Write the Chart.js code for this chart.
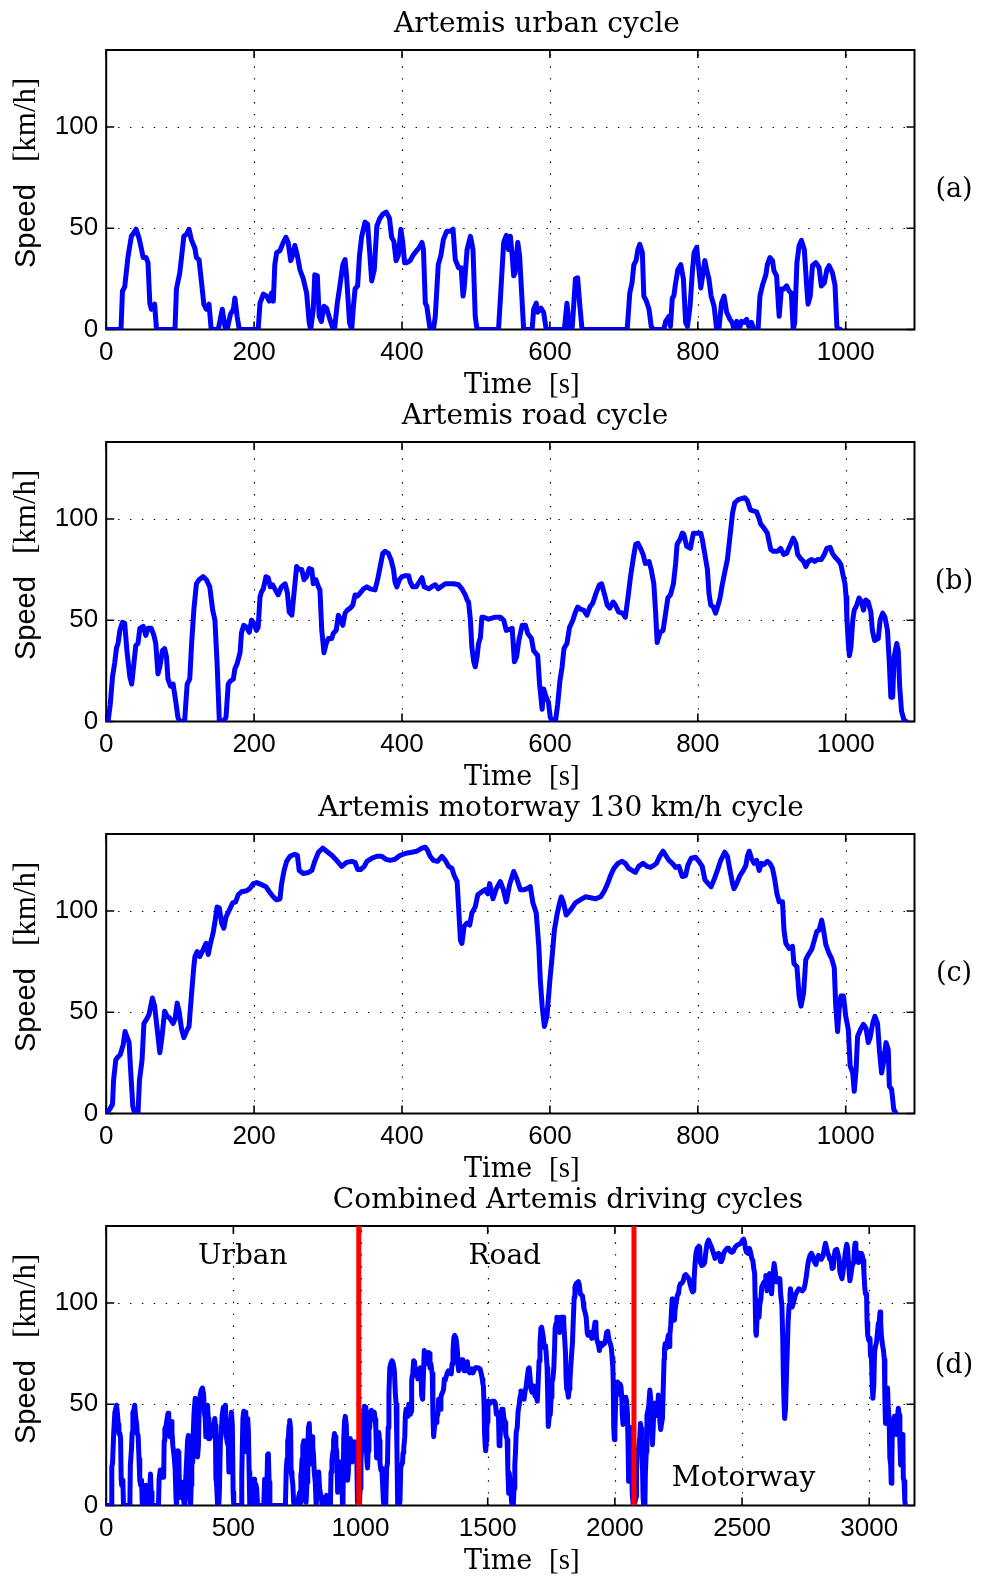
<!DOCTYPE html>
<html>
<head>
<meta charset="utf-8">
<title>Artemis driving cycles</title>
<script src="https://cdn.jsdelivr.net/npm/chart.js@4.4.1/dist/chart.umd.min.js"></script>
<style>
  html, body { margin: 0; padding: 0; background: #fff; }
  #figure { position: relative; width: 981px; height: 1579px; }
  #figure canvas { position: absolute; left: 0; }
</style>
</head>
<body>
<div id="figure"></div>
<script>
// Speed traces: time in s, speed in km/h
const urbanTime = [0, 20, 22, 25, 29.5, 34, 36, 40.5, 44.5, 47.5, 50, 54, 56.5, 59, 61, 65.5, 68, 93, 95, 99.5,
  102, 105, 108.5, 112, 115, 120, 122, 125.5, 129, 132, 135.5, 139, 142, 151.5, 157, 160.5, 163.5, 168, 172, 174,
  177, 180, 205.5, 208, 212.5, 217, 220.5, 223.5, 226, 228, 230.5, 235, 239.5, 243, 246, 249.5, 252, 255, 258.5, 262,
  266.5, 271, 274.5, 276.5, 280, 282, 285.5, 288, 291, 294.5, 298, 302.5, 307, 309, 312.5, 316, 320, 323, 325, 329,
  332, 334, 336.5, 340, 342.5, 345.5, 350, 353.5, 356, 359, 362.5, 366, 369.5, 374, 378.5, 383, 386, 389, 392, 395,
  398.5, 401, 403.5, 406.5, 411, 415.5, 420, 423.5, 427, 429, 431.5, 433.5, 438, 442.5, 445, 449, 452.5, 456, 460.5, 465,
  469, 472, 476.5, 480, 482.5, 484, 488, 492.5, 496, 499, 501.5, 530.5, 533, 537.5, 541, 544, 546.5, 549, 551, 553,
  556.5, 559, 562, 564.5, 576, 578, 581.5, 583.5, 588, 591.5, 595, 619.5, 623, 626.5, 630, 634.5, 637.5, 640.5, 643.5, 704.5,
  708, 711, 713.5, 716.5, 719, 721.5, 725, 727, 730.5, 734, 737, 740, 754, 756.5, 761, 763, 765.5, 767.5, 770, 773,
  777, 780.5, 783.5, 786, 789.5, 792.5, 795, 798.5, 801.5, 804, 806.5, 809.5, 812, 815, 818, 822, 825.5, 828.5, 832, 835.5,
  839, 843.5, 846.5, 849, 852.5, 856, 859, 862.5, 866, 869, 872.5, 876, 881.5, 884, 887.5, 892, 894, 897.5, 901, 903,
  906.5, 910, 913, 916.5, 920, 923.5, 926.5, 929, 931, 934, 937, 940, 944, 947.5, 949, 952, 955, 959.5, 964, 967,
  971, 974.5, 977.5, 982, 985.5, 988, 990, 993];
const urbanSpeed = [0, 0, 19, 21, 36, 46, 47, 49.5, 45, 40, 35.5, 35.5, 33, 13, 10, 12.5, 0, 0, 20, 28,
  36, 46, 47, 49.5, 44.5, 40, 35.5, 34.5, 23, 12.5, 10, 12.5, 0, 0, 10, 1.5, 0, 7.5, 10, 15.5,
  6.5, 0, 0, 13, 17.5, 16.5, 14, 18, 14, 32, 38, 39, 43, 45.5, 43, 34, 36.5, 41.5, 36.5, 29.5,
  25, 18, 3.5, 0, 10, 27, 26.5, 6.5, 4, 11.5, 10.5, 5, 0, 1, 13, 21.5, 32, 34.5, 26.5, 3.5,
  0, 10, 20, 21.5, 36.5, 46, 53, 52, 39.5, 24, 29.5, 51, 54.5, 57, 58, 55, 45.5, 43.5, 34, 36.5,
  49.5, 43, 33, 33, 34, 37, 39, 40.5, 43, 39.5, 13, 11.5, 0, 0, 6.5, 32, 36.5, 44.5, 48.5, 48.5,
  49.5, 34.5, 30.5, 30.5, 16.5, 20, 39.5, 46, 39.5, 6.5, 0, 0, 15, 43, 46.5, 39.5, 46, 36.5, 26.5, 28,
  43, 36.5, 16.5, 0, 0, 10, 13, 8.5, 10.5, 8.5, 0, 0, 13, 0, 0, 25, 25.5, 11.5, 0, 0,
  18, 23, 32, 34, 39.5, 42, 38, 16.5, 14, 10, 1.5, 0, 0, 4, 6.5, 1.5, 15.5, 16.5, 23, 29.5,
  32, 25, 3.5, 1.5, 11.5, 28, 38, 40.5, 29.5, 20.5, 26.5, 34, 29.5, 25, 16.5, 11.5, 0, 0, 13, 16.5,
  8.5, 5, 3.5, 0, 4, 0, 4, 3.5, 5, 1.5, 3.5, 0, 0, 16.5, 22, 27, 32, 35.5, 34, 29,
  26.5, 6.5, 20, 20, 21.5, 19, 18, 0, 3.5, 33, 41.5, 44, 39.5, 20, 12.5, 16.5, 31.5, 33, 30.5, 21.5,
  23, 29.5, 31.5, 28, 22, 1.5, 0, 0];

const roadTime = [0, 2.5, 5.5, 8.5, 11.5, 14, 16, 18.5, 22, 25, 28, 32, 34.5, 37, 40, 43, 45.5, 50, 53.5, 56.5,
  61, 64.5, 67, 70, 72.5, 76, 79, 81.5, 83.5, 87, 90.5, 94, 97, 99.5, 106, 109.5, 113, 115.5, 118.5, 122,
  125.5, 131, 135.5, 140, 144, 147, 150, 153, 158, 162, 165, 168, 172, 174, 177, 181, 183, 186, 190, 193.5,
  196.5, 200, 203, 205.5, 208, 210, 212.5, 216, 219, 222, 225, 228, 232.5, 237, 242, 245, 247.5, 251, 254, 257.5,
  261, 264.5, 267.5, 271, 274.5, 278, 280, 283.5, 287, 289, 291.5, 294.5, 297.5, 300.5, 305, 307, 311, 314, 317, 320,
  323, 326, 330, 333.5, 336.5, 340, 343.5, 348, 352.5, 357, 363.5, 367, 370.5, 374, 377, 381.5, 385, 388.5, 390.5, 393,
  396.5, 400, 404.5, 409, 411, 414.5, 419, 423.5, 427, 430, 436, 440, 445, 449, 452.5, 458.5, 463, 470, 476.5, 481,
  485.5, 488, 490, 492.5, 494.5, 497, 499, 501.5, 503.5, 506, 508, 510.5, 517, 526, 533, 537.5, 541, 549, 552, 555,
  558, 562.5, 567, 570, 575, 578, 583.5, 586, 589.5, 591.5, 595, 598, 600.5, 604, 607.5, 610.5, 613.5, 616.5, 619, 623,
  626.5, 631, 634.5, 637.5, 641, 645.5, 650, 654, 658, 662.5, 667, 670, 674, 677.5, 681, 685.5, 688.5, 693, 698, 702,
  705.5, 709, 712.5, 716, 719, 722.5, 726, 729, 734, 737, 740.5, 743, 745, 749, 753, 756.5, 759.5, 763, 767, 770,
  772, 776, 779, 781, 785, 790, 794, 798.5, 804, 806, 809.5, 813, 815, 817.5, 821, 824, 827.5, 830, 833, 836,
  840, 843.5, 847, 850, 854.5, 859, 863.5, 867, 871, 875, 879.5, 883, 885, 889.5, 894, 898.5, 902, 907.5, 912, 916,
  920, 926, 929, 932.5, 935, 939, 943, 946, 949.5, 954, 958, 962, 967, 971, 974.5, 979, 982, 986, 990, 993.5,
  996, 999, 1000.5, 1001.5, 1003.5, 1005, 1007, 1009.5, 1011.5, 1015, 1018, 1021.5, 1024, 1027, 1030.5, 1034, 1036, 1039, 1044, 1046.5,
  1050, 1053, 1056.5, 1059, 1061, 1063.5, 1065.5, 1069, 1071, 1073, 1075.5, 1079, 1082];
const roadSpeed = [0, 0, 8.5, 22, 29, 36.5, 38.5, 45, 49, 48.5, 35, 22, 18.5, 27, 37.5, 38.5, 46, 47, 42.5, 46,
  46, 42.5, 38.5, 23.5, 27, 35, 36, 32, 21, 17.5, 18.5, 10, 2, 0, 0, 18.5, 21, 38.5, 55, 68,
  70, 71.5, 70, 66.5, 55, 50, 28.5, 0, 0, 2, 18.5, 20, 21, 26, 28.5, 34, 44, 47.5, 46.5, 44,
  50, 48.5, 45, 46.5, 61.5, 64, 65.5, 71.5, 71, 66.5, 67.5, 65.5, 62.5, 66.5, 68, 63.5, 54, 52.5, 63.5, 76.5,
  75, 75, 70, 71.5, 75.5, 75, 68, 70, 66.5, 65, 45, 34, 38.5, 41, 41, 43.5, 45, 52.5, 50, 47.5,
  53.5, 55, 56, 57.5, 62.5, 62, 63.5, 65.5, 66.5, 65.5, 65, 70, 76.5, 83, 84, 83, 80, 75, 69, 66.5,
  70, 71.5, 72, 72, 69, 66.5, 66.5, 69, 71, 66.5, 65.5, 66.5, 67.5, 65.5, 66.5, 68, 68, 68, 67.5, 65.5,
  62.5, 60, 59, 50, 36.5, 29.5, 27, 32, 38.5, 41.5, 51.5, 51.5, 50.5, 51.5, 51.5, 50, 45, 46, 29.5, 32,
  40, 47.5, 47.5, 43.5, 41, 35, 32.5, 18.5, 6, 16, 12, 9.5, 2, 0, 0, 8.5, 20, 27, 36, 38.5,
  46.5, 50, 54, 56.5, 55.5, 55, 52.5, 56.5, 58.5, 63.5, 67.5, 68, 62.5, 57.5, 56, 59, 57.5, 54, 53.5, 51.5,
  61, 71.5, 80, 87.5, 88, 85.5, 82.5, 78, 79, 75, 68, 53.5, 39, 44, 45, 53.5, 61, 62.5, 68, 78,
  87.5, 90, 93, 92.5, 86.5, 85.5, 93, 93, 93, 90, 82.5, 75, 63.5, 57.5, 56.5, 53.5, 57.5, 61, 67.5, 73,
  80, 91.5, 103, 108, 109.5, 110, 110.5, 109, 104.5, 104, 103.5, 100, 97.5, 95.5, 93, 85, 84, 84, 85.5, 82.5,
  83, 88, 90.5, 88, 82.5, 80.5, 79, 76.5, 79, 80, 79, 80, 80, 82.5, 85.5, 86, 83, 81, 79.5, 77.5,
  73, 68, 61.5, 51.5, 38.5, 32.5, 36.5, 50, 55, 57.5, 61, 59, 55, 60, 59, 54, 45, 40, 41, 50,
  53.5, 51.5, 45, 28.5, 12, 12, 32, 38.5, 35, 17, 5, 0.5, 0];

const motorwayTime = [0, 4.5, 8.5, 10, 13, 16, 19, 23, 25.5, 28, 31, 33, 36, 38.5, 43, 45, 48.5, 51, 54.5, 58,
  62.5, 65.5, 69, 72.5, 75.5, 79, 82.5, 86, 90.5, 93, 96, 98.5, 102, 105, 108.5, 112, 115.5, 118.5, 120, 123,
  126.5, 130, 135, 138, 141, 144.5, 147, 150, 153, 156, 159, 162, 166.5, 171, 175, 178.5, 183, 190, 194, 199,
  203.5, 210, 216, 220.5, 226, 230.5, 235, 237, 240.5, 244, 248.5, 255, 258.5, 261, 266.5, 273.5, 278, 282.5, 287, 293,
  298, 305, 311.5, 318.5, 325, 332, 336.5, 340, 344, 349, 352.5, 359, 366, 372.5, 378.5, 384, 390.5, 397.5, 405.5, 413,
  420, 427, 431.5, 434.5, 438, 442.5, 448, 454, 458.5, 463, 467.5, 470.5, 474.5, 476.5, 479, 481, 484, 488, 491.5, 494.5,
  499, 502.5, 508, 512.5, 516, 518.5, 523, 527.5, 533, 537, 541, 545.5, 551, 555.5, 560, 565.5, 569, 573.5, 577, 581.5,
  585, 587, 589.5, 592.5, 596, 600, 603, 606, 610, 613.5, 615.5, 618.5, 622, 628, 634.5, 641, 648, 655, 661.5, 668.5,
  673, 677.5, 682, 686.5, 692, 697.5, 702, 706.5, 711, 715.5, 720, 726, 731.5, 736, 740.5, 744, 748.5, 753, 756.5, 761,
  765.5, 770, 774.5, 779, 783.5, 786.5, 791, 797, 801.5, 806, 809.5, 814, 818, 822, 826.5, 831, 836.5, 840, 843.5, 847,
  849, 852.5, 857, 861.5, 865, 867, 869.5, 872.5, 876, 879.5, 883, 886, 889.5, 894, 897.5, 901, 904, 907, 910, 914.5,
  916.5, 919, 923.5, 928, 930, 934, 937, 939.5, 943, 946, 949.5, 954, 957.5, 961, 964, 967.5, 970, 973, 977.5, 981,
  984.5, 986.5, 989, 991, 993.5, 997, 1000, 1003.5, 1006, 1009.5, 1011.5, 1014, 1016, 1020, 1024, 1027.5, 1030.5, 1033, 1036.5, 1039.5,
  1043, 1045.5, 1048.5, 1051, 1054.5, 1057.5, 1059, 1062, 1065, 1068];
const motorwaySpeed = [0, 2, 4.5, 16.5, 26.5, 28, 29, 34, 40.5, 38, 35, 21.5, 3.5, 0, 0, 16.5, 26.5, 44.5, 46.5, 49,
  57, 53, 41.5, 30, 38, 50.5, 48, 47, 44.5, 46.5, 54.5, 50.5, 41.5, 37.5, 40.5, 43, 59.5, 72.5, 77.5, 80,
  77.5, 80, 84, 78.5, 84, 89, 94.5, 102, 101.5, 94, 91.5, 97, 100.5, 104, 104.5, 108, 109.5, 110, 111, 113.5,
  114, 113, 112, 109.5, 107, 105.5, 106, 113, 120, 124.5, 127, 128, 127.5, 120, 118.5, 119, 120, 125, 129, 131,
  129.5, 127.5, 125, 122, 124, 124.5, 124, 120.5, 120.5, 122, 124.5, 126, 127, 127, 125.5, 125, 125.5, 127.5, 128.5, 129,
  129.5, 131, 131.5, 130, 127, 125, 124.5, 127, 125, 122, 121, 117.5, 114.5, 102, 85.5, 84, 92.5, 94, 93, 99,
  102, 108, 109.5, 110.5, 108.5, 113.5, 106, 111, 114.5, 110.5, 104.5, 113, 119.5, 115.5, 110.5, 110.5, 111, 112, 104, 99,
  82.5, 66, 53, 43, 48, 66, 77.5, 90.5, 99, 104.5, 107, 104, 98, 100.5, 104, 105.5, 107, 106.5, 106, 107,
  109.5, 113, 117.5, 121, 123.5, 124.5, 123.5, 121, 120, 119, 122, 123.5, 122, 121.5, 122.5, 123.5, 127, 129.5, 127.5, 125,
  123.5, 121.5, 122, 117, 117.5, 122.5, 126, 126.5, 124.5, 122, 115.5, 113.5, 112, 115.5, 120, 125, 129, 127, 120, 113.5,
  111, 113.5, 117.5, 120, 122.5, 127, 129.5, 126, 123.5, 125, 120, 123.5, 123, 124.5, 123.5, 121, 115.5, 108.5, 104.5, 104.5,
  90.5, 84, 81.5, 82.5, 74, 72.5, 58, 53, 59.5, 76, 78.5, 81, 85.5, 90, 90.5, 95.5, 90.5, 83.5, 79, 76.5,
  72, 53, 40.5, 51, 58, 58, 48, 41.5, 23.5, 20, 11, 21.5, 38, 41.5, 44, 42, 35, 37.5, 44.5, 48,
  44.5, 31.5, 20, 25, 35, 31.5, 13.5, 12, 2, 0];

// Phase boundaries of the combined cycle (s)
const cycleEnds = [993, 2075];
const phaseNames = ['Urban', 'Road', 'Motorway'];
const phaseLabelTime = [537, 1567, 2506];
const phaseLabelSpeed = [119, 119, 9.5];

// Axis ticks
const cycleTicks = [0, 200, 400, 600, 800, 1000];
const combinedTicks = [0, 500, 1000, 1500, 2000, 2500, 3000];
const speedTicks = [0, 50, 100];

const FigureRenderer = (() => {
    const PANEL_STEP = 392;
    const CANVAS_W = 981;
    const CANVAS_H = 424;
    const PLOT_TOP = 50;
    const PLOT_BOTTOM = 329.5;
    const PLOT_LEFT = 106.2;
    const PLOT_RIGHT = 914.5;
    const TICK_LEN = 8;
    const SERIF = '"DejaVu Serif", serif';
    const SANS = '"Liberation Sans", Arial, sans-serif';
    const THIN_SERIF = '"Liberation Serif", serif';

    function toPoints(times, speeds, offset) {
        return times.map((t, i) => ({ x: t + offset, y: speeds[i] }));
    }

    function combinedPoints() {
        const road0 = cycleEnds[0];
        const motorway0 = cycleEnds[1];
        return toPoints(urbanTime, urbanSpeed, 0)
            .concat(toPoints(roadTime, roadSpeed, road0))
            .concat(toPoints(motorwayTime, motorwaySpeed, motorway0));
    }

    // Dotted grid, inward tick marks and the axes box, under the traces
    function framePlugin(panel) {
        return {
            id: 'frame',
            beforeDatasetsDraw(chart) {
                const { ctx, chartArea: a, scales: { x, y } } = chart;
                ctx.save();
                ctx.strokeStyle = '#000';
                ctx.lineWidth = 1.2;
                ctx.setLineDash([1.4, 10.5]);
                ctx.beginPath();
                panel.ticks.forEach(v => {
                    if (v <= x.min || v >= x.max) return;
                    const px = Math.round(x.getPixelForValue(v)) + 0.5;
                    ctx.moveTo(px, a.bottom);
                    ctx.lineTo(px, a.top);
                });
                speedTicks.forEach(v => {
                    if (v <= y.min || v >= y.max) return;
                    const py = Math.round(y.getPixelForValue(v)) + 0.5;
                    ctx.moveTo(a.left, py);
                    ctx.lineTo(a.right, py);
                });
                ctx.stroke();

                ctx.setLineDash([]);
                ctx.lineWidth = 1.6;
                ctx.beginPath();
                panel.ticks.forEach(v => {
                    const px = x.getPixelForValue(v);
                    ctx.moveTo(px, a.bottom);
                    ctx.lineTo(px, a.bottom - TICK_LEN);
                    ctx.moveTo(px, a.top);
                    ctx.lineTo(px, a.top + TICK_LEN);
                });
                speedTicks.forEach(v => {
                    const py = y.getPixelForValue(v);
                    ctx.moveTo(a.left, py);
                    ctx.lineTo(a.left + TICK_LEN, py);
                    ctx.moveTo(a.right, py);
                    ctx.lineTo(a.right - TICK_LEN, py);
                });
                ctx.stroke();

                ctx.lineWidth = 2;
                ctx.strokeRect(a.left, a.top, a.right - a.left, a.bottom - a.top);
                ctx.restore();
            }
        };
    }

    // Title, axis labels, panel letter and phase names
    function labelPlugin(panel) {
        return {
            id: 'labels',
            afterDraw(chart) {
                const { ctx, chartArea: a, scales: { x, y } } = chart;
                ctx.save();
                ctx.fillStyle = '#000';
                ctx.textBaseline = 'alphabetic';

                ctx.font = '28px ' + SERIF;
                ctx.textAlign = 'center';
                ctx.fillText(panel.title, panel.titleX, a.top - 18);

                ctx.textAlign = 'left';
                ctx.font = '27px ' + SERIF;
                ctx.fillText('Time', 464, a.bottom + 63);
                ctx.font = '29px ' + THIN_SERIF;
                ctx.fillText('[s]', 549, a.bottom + 63);

                ctx.save();
                ctx.translate(35, a.top + 218);
                ctx.rotate(-Math.PI / 2);
                ctx.font = '29px ' + SANS;
                ctx.fillText('Speed', 0, 0);
                ctx.font = '31px ' + THIN_SERIF;
                ctx.fillText('[km/h]', 106, 0);
                ctx.restore();

                ctx.font = '27px ' + SERIF;
                ctx.textAlign = 'center';
                ctx.textBaseline = 'middle';
                ctx.fillText(panel.letter, 954, (a.top + a.bottom) / 2);

                if (panel.phases) {
                    ctx.font = '28px ' + SERIF;
                    ctx.textBaseline = 'alphabetic';
                    phaseNames.forEach((name, i) => {
                        ctx.fillText(name, x.getPixelForValue(phaseLabelTime[i]), y.getPixelForValue(phaseLabelSpeed[i]));
                    });
                }
                ctx.restore();
            }
        };
    }

    function render(figureEl, panel, index) {
        const canvas = document.createElement('canvas');
        canvas.width = CANVAS_W;
        canvas.height = CANVAS_H;
        canvas.style.top = (index * PANEL_STEP) + 'px';
        figureEl.appendChild(canvas);

        // Red phase markers go first so they are painted over the trace
        const datasets = (panel.markers || []).map(t => ({
            data: [{ x: t, y: 0 }, { x: t, y: 138 }],
            showLine: true,
            borderColor: '#ff0000',
            borderWidth: 5,
            pointRadius: 0
        }));
        datasets.push({
            data: panel.points,
            showLine: true,
            borderColor: '#0000ff',
            borderWidth: 5,
            borderJoinStyle: 'round',
            borderCapStyle: 'round',
            pointRadius: 0,
            tension: 0
        });

        const tickFont = { family: SANS, size: 26 };
        const plainLabel = v => String(v);

        new Chart(canvas.getContext('2d'), {
            type: 'scatter',
            data: { datasets },
            options: {
                responsive: false,
                animation: false,
                events: [],
                layout: { padding: { top: PLOT_TOP, right: CANVAS_W - PLOT_RIGHT, left: 0, bottom: 0 } },
                scales: {
                    x: {
                        type: 'linear',
                        min: 0,
                        max: panel.xMax,
                        afterBuildTicks: s => { s.ticks = panel.ticks.map(v => ({ value: v })); },
                        afterFit: s => { s.height = CANVAS_H - PLOT_BOTTOM; },
                        grid: { display: false, drawTicks: false },
                        border: { display: false },
                        ticks: { padding: 8, color: '#000', font: tickFont, maxRotation: 0, autoSkip: false, callback: plainLabel }
                    },
                    y: {
                        type: 'linear',
                        min: 0,
                        max: 138,
                        afterBuildTicks: s => { s.ticks = speedTicks.map(v => ({ value: v })); },
                        afterFit: s => { s.width = PLOT_LEFT; },
                        grid: { display: false, drawTicks: false },
                        border: { display: false },
                        ticks: { padding: 8, color: '#000', font: tickFont, callback: plainLabel }
                    }
                },
                plugins: {
                    legend: { display: false },
                    tooltip: { enabled: false }
                }
            },
            plugins: [framePlugin(panel), labelPlugin(panel)]
        });
    }

    return { render, toPoints, combinedPoints };
})();

const panels = [
    { title: 'Artemis urban cycle', titleX: 537, letter: '(a)', xMax: 1093, ticks: cycleTicks,
      points: FigureRenderer.toPoints(urbanTime, urbanSpeed, 0) },
    { title: 'Artemis road cycle', titleX: 535, letter: '(b)', xMax: 1093, ticks: cycleTicks,
      points: FigureRenderer.toPoints(roadTime, roadSpeed, 0) },
    { title: 'Artemis motorway 130 km/h cycle', titleX: 561, letter: '(c)', xMax: 1093, ticks: cycleTicks,
      points: FigureRenderer.toPoints(motorwayTime, motorwaySpeed, 0) },
    { title: 'Combined Artemis driving cycles', titleX: 568, letter: '(d)', xMax: 3178, ticks: combinedTicks,
      points: FigureRenderer.combinedPoints(), markers: cycleEnds, phases: true }
];

const figureEl = document.getElementById('figure');
panels.forEach((p, i) => FigureRenderer.render(figureEl, p, i));
</script>
</body>
</html>
